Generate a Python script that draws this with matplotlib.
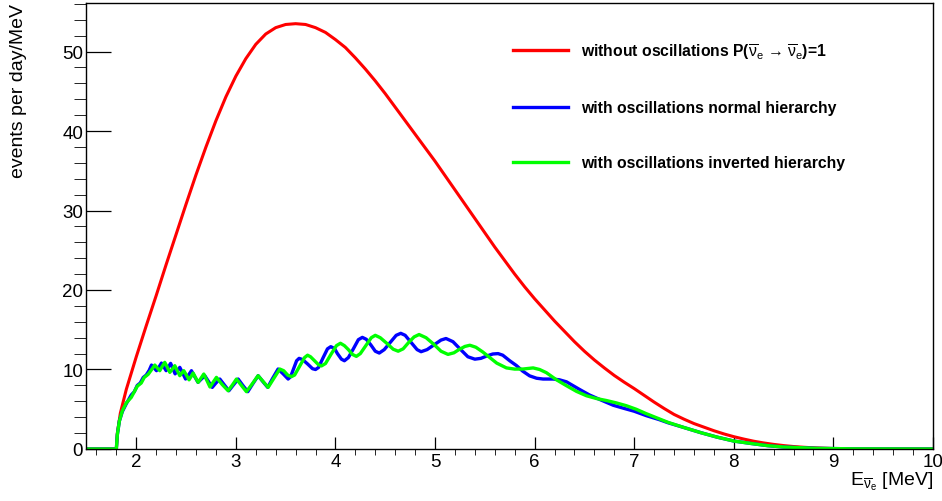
import matplotlib
matplotlib.use('Agg')
import matplotlib.pyplot as plt
from matplotlib.ticker import MultipleLocator
from matplotlib.lines import Line2D

plt.rcParams['font.family'] = ['Liberation Sans', 'DejaVu Sans']
plt.rcParams['mathtext.fontset'] = 'custom'
plt.rcParams['mathtext.rm'] = 'Liberation Sans'
plt.rcParams['mathtext.it'] = 'Liberation Sans:italic'
plt.rcParams['mathtext.bf'] = 'Liberation Sans:bold'

# Spectrum without oscillations (E [MeV], events per day/MeV)
noosc = [(1.5, 0.0), (1.8, 0.0), (1.81, 2.0), (1.84, 4.5), (1.9, 7.5), (2.0, 11.6), (2.1, 15.5),
         (2.2, 19.3), (2.3, 23.2), (2.4, 27.0), (2.5, 30.8), (2.6, 34.5), (2.7, 38.0), (2.8, 41.3),
         (2.9, 44.3), (3.0, 46.9), (3.1, 49.1), (3.2, 50.9), (3.3, 52.2), (3.4, 53.0), (3.5, 53.4),
         (3.6, 53.5), (3.7, 53.4), (3.8, 53.0), (3.9, 52.4), (4.0, 51.5), (4.1, 50.5), (4.2, 49.2),
         (4.3, 47.8), (4.4, 46.3), (4.5, 44.7), (4.6, 43.0), (4.7, 41.3), (4.8, 39.6), (4.9, 37.9),
         (5.0, 36.2), (5.1, 34.4), (5.2, 32.6), (5.3, 30.8), (5.4, 29.0), (5.5, 27.2), (5.6, 25.4),
         (5.7, 23.7), (5.8, 22.0), (5.9, 20.4), (6.0, 18.9), (6.1, 17.5), (6.2, 16.1), (6.3, 14.8),
         (6.4, 13.5), (6.5, 12.3), (6.6, 11.2), (6.7, 10.2), (6.8, 9.25), (6.9, 8.4), (7.0, 7.6),
         (7.1, 6.75), (7.2, 5.9), (7.3, 5.1), (7.4, 4.35), (7.5, 3.75), (7.6, 3.2), (7.7, 2.75),
         (7.8, 2.3), (7.9, 1.9), (8.0, 1.55), (8.1, 1.25), (8.2, 0.98), (8.3, 0.76), (8.4, 0.58),
         (8.5, 0.43), (8.6, 0.31), (8.7, 0.22), (8.8, 0.15), (8.9, 0.1), (9.0, 0.06), (9.2, 0.02),
         (9.5, 0.0), (10.0, 0.0)]

# With oscillations, normal hierarchy
nh = [(1.5, 0.0), (1.8, 0.0), (1.81, 1.8), (1.83, 3.5), (1.86, 4.7), (1.9, 5.7), (1.95, 6.8),
      (1.98, 7.2), (2.01, 8.0), (2.04, 8.3), (2.07, 9.0), (2.1, 9.3), (2.13, 9.9), (2.153, 10.56),
      (2.178, 10.2), (2.203, 9.85), (2.228, 10.3), (2.253, 10.81), (2.278, 10.3), (2.30, 9.85),
      (2.322, 10.3), (2.345, 10.77), (2.368, 10.1), (2.39, 9.45), (2.414, 9.85), (2.437, 10.27),
      (2.466, 9.55), (2.495, 8.8), (2.525, 9.3), (2.554, 9.85), (2.587, 9.1), (2.62, 8.38),
      (2.654, 8.8), (2.688, 9.22), (2.725, 8.5), (2.763, 7.75), (2.80, 8.3), (2.839, 8.8),
      (2.885, 8.05), (2.93, 7.33), (2.975, 8.05), (3.023, 8.8), (3.07, 8.0), (3.12, 7.21),
      (3.17, 8.2), (3.224, 9.22), (3.27, 8.5), (3.32, 7.75), (3.37, 8.9), (3.424, 10.06),
      (3.475, 9.45), (3.525, 8.8), (3.55, 9.1), (3.58, 10.1), (3.61, 11.1), (3.635, 11.4),
      (3.67, 11.25), (3.72, 10.7), (3.77, 10.1), (3.80, 10.0), (3.83, 10.25), (3.875, 11.45),
      (3.92, 12.6), (3.953, 12.87), (3.99, 12.65), (4.02, 12.0), (4.06, 11.3), (4.09, 11.1),
      (4.13, 11.5), (4.18, 12.6), (4.23, 13.75), (4.27, 14.04), (4.31, 13.8), (4.355, 13.1),
      (4.40, 12.3), (4.44, 12.07), (4.49, 12.5), (4.55, 13.4), (4.61, 14.3), (4.656, 14.55),
      (4.70, 14.3), (4.76, 13.4), (4.82, 12.5), (4.86, 12.24), (4.92, 12.5), (4.99, 13.1),
      (5.06, 13.7), (5.11, 13.9), (5.18, 13.5), (5.25, 12.6), (5.33, 11.6), (5.40, 11.3),
      (5.46, 11.4), (5.52, 11.7), (5.58, 11.95), (5.633, 12.0), (5.68, 11.8), (5.75, 11.1),
      (5.817, 10.5), (5.88, 9.8), (5.95, 9.2), (6.02, 8.9), (6.085, 8.8), (6.185, 8.8),
      (6.25, 8.7), (6.32, 8.45), (6.45, 7.5), (6.55, 6.8), (6.65, 6.25), (6.79, 5.5), (6.9, 5.1),
      (7.0, 4.75), (7.12, 4.2), (7.25, 3.7), (7.34, 3.3), (7.5, 2.7), (7.67, 2.05), (7.83, 1.5),
      (8.0, 1.0), (8.17, 0.7), (8.34, 0.42), (8.5, 0.25), (8.83, 0.08), (9.2, 0.02), (10.0, 0.0)]

# With oscillations, inverted hierarchy
ih = [(1.5, 0.0), (1.8, 0.0), (1.81, 1.8), (1.83, 3.5), (1.86, 4.8), (1.9, 5.8), (1.95, 6.5),
      (1.98, 7.2), (2.01, 7.9), (2.05, 8.3), (2.08, 9.0), (2.12, 9.4), (2.155, 10.0), (2.186, 10.56),
      (2.211, 10.2), (2.236, 9.85), (2.261, 10.4), (2.286, 10.9), (2.311, 10.3), (2.337, 9.64),
      (2.362, 10.05), (2.387, 10.48), (2.412, 9.85), (2.437, 9.22), (2.457, 9.55), (2.477, 9.85),
      (2.503, 9.3), (2.53, 8.7), (2.55, 9.1), (2.571, 9.56), (2.596, 8.95), (2.621, 8.38),
      (2.65, 8.9), (2.678, 9.43), (2.71, 8.6), (2.74, 7.8), (2.772, 8.4), (2.805, 9.01),
      (2.86, 8.15), (2.922, 7.33), (2.965, 8.05), (3.006, 8.8), (3.056, 8.0), (3.106, 7.21),
      (3.165, 8.2), (3.223, 9.22), (3.273, 8.5), (3.324, 7.75), (3.382, 8.9), (3.441, 10.06),
      (3.48, 9.85), (3.52, 9.3), (3.558, 9.1), (3.59, 9.3), (3.64, 10.4), (3.69, 11.5),
      (3.72, 11.8), (3.75, 11.6), (3.79, 11.1), (3.83, 10.6), (3.86, 10.45), (3.90, 10.75),
      (3.955, 11.9), (4.01, 13.0), (4.05, 13.3), (4.09, 13.0), (4.13, 12.5), (4.17, 11.9),
      (4.21, 11.65), (4.25, 12.0), (4.305, 13.0), (4.36, 14.0), (4.40, 14.3), (4.45, 14.0),
      (4.515, 13.3), (4.58, 12.55), (4.63, 12.3), (4.68, 12.6), (4.735, 13.4), (4.79, 14.1),
      (4.84, 14.4), (4.91, 14.0), (4.985, 13.2), (5.06, 12.3), (5.13, 11.9), (5.19, 12.1),
      (5.24, 12.5), (5.30, 12.9), (5.35, 13.05), (5.41, 12.8), (5.48, 12.2), (5.55, 11.5),
      (5.62, 10.8), (5.717, 10.2), (5.8, 10.05), (5.884, 10.06), (5.985, 10.2), (6.05, 10.0),
      (6.118, 9.6), (6.22, 8.7), (6.32, 7.96), (6.42, 7.25), (6.52, 6.7), (6.62, 6.35),
      (6.72, 6.1), (6.82, 5.8), (6.92, 5.45), (7.02, 5.0), (7.12, 4.45), (7.23, 3.9),
      (7.34, 3.35), (7.5, 2.7), (7.67, 2.05), (7.83, 1.5), (8.0, 1.0), (8.17, 0.7), (8.34, 0.42),
      (8.5, 0.25), (8.83, 0.08), (9.2, 0.02), (10.0, 0.0)]

labels = [r'without oscillations P($\overline{\mathrm{\nu}}_\mathrm{e}$ → $\overline{\mathrm{\nu}}_\mathrm{e}$)=1',
          'with oscillations normal hierarchy',
          'with oscillations inverted hierarchy']
colors = ['#ff0000', '#0000ff', '#00ff00']

fig = plt.figure(figsize=(9.42, 5.02), dpi=100)
ax = fig.add_axes([0.0918, 0.1036, 0.8986, 0.8884])

for curve, c, lw in zip([noosc, nh, ih], colors, [2.2, 2.4, 2.4]):
    e, n = zip(*curve)
    ax.plot(e, n, color=c, lw=lw, solid_joinstyle='round')

ax.set_xlim(1.5, 10)
ax.set_ylim(0, 56.1)

# ROOT like ticks
ax.xaxis.set_major_locator(MultipleLocator(1))
ax.xaxis.set_minor_locator(MultipleLocator(0.2))
ax.yaxis.set_major_locator(MultipleLocator(10))
ax.yaxis.set_minor_locator(MultipleLocator(2))
ax.tick_params(direction='in', top=False, right=False, labelsize=13.5, width=0.9)
ax.tick_params(axis='x', which='major', length=9, pad=3)
ax.tick_params(axis='x', which='minor', length=4.3)
ax.tick_params(axis='y', which='major', length=18, pad=2.5)
ax.tick_params(axis='y', which='minor', length=9)
for s in ax.spines.values():
    s.set_linewidth(1.0)

ax.set_ylabel('events per day/MeV', loc='top', fontsize=14, labelpad=25)
ax.set_xlabel(r'$\mathrm{E}_{\overline{\mathrm{\nu}}_\mathrm{e}}$ [MeV]', loc='right', fontsize=14, labelpad=0)

handles = [Line2D([0], [0], color=c, lw=2.4) for c in colors]
ax.legend(handles, labels, loc='upper left', bbox_to_anchor=(0.504, 0.9155), frameon=False,
          prop={'weight': 'bold', 'size': 11.3}, handlelength=3.5, handletextpad=0.8,
          labelspacing=2.53, borderpad=0, borderaxespad=0)

fig.savefig('out.png', dpi=100)
